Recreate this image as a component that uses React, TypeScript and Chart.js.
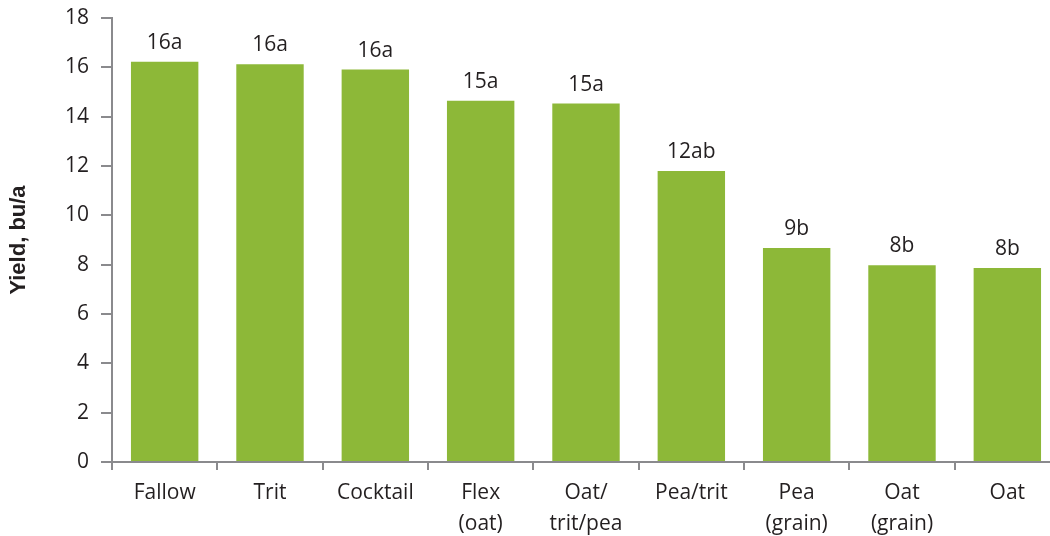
import React, { useEffect, useRef } from "react";
import { Chart, registerables } from "chart.js";

Chart.register(...registerables);

const categories: (string | string[])[] = [
  "Fallow",
  "Trit",
  "Cocktail",
  ["Flex", "(oat)"],
  ["Oat/", "trit/pea"],
  "Pea/trit",
  ["Pea", "(grain)"],
  ["Oat", "(grain)"],
  "Oat",
];
const yieldValues = [16.23, 16.12, 15.91, 14.65, 14.53, 11.8, 8.68, 7.98, 7.86];
const barLabels = ["16a", "16a", "16a", "15a", "15a", "12ab", "9b", "8b", "8b"];
const yTitle = "Yield, bu/a";

const FONT = "'Open Sans', 'Noto Sans', sans-serif";
const TEXT = "#231f20";
const AXIS = "#8a8a8d";
const GREEN = "#8db838";

const labelPlugin = {
  id: "barLabels",
  afterDatasetsDraw(chart: any) {
    const ctx = chart.ctx;
    const meta = chart.getDatasetMeta(0);
    ctx.save();
    ctx.font = `21px ${FONT}`;
    ctx.fillStyle = TEXT;
    ctx.textAlign = "center";
    ctx.textBaseline = "alphabetic";
    meta.data.forEach((el: any, i: number) => {
      ctx.fillText(barLabels[i], el.x, el.y - 13);
    });
    ctx.restore();
  },
};

export default function App() {
  const ref = useRef<HTMLCanvasElement | null>(null);
  useEffect(() => {
    if (!ref.current) return;
    const chart = new Chart(ref.current, {
      type: "bar",
      data: {
        labels: categories,
        datasets: [
          {
            data: yieldValues,
            backgroundColor: GREEN,
            borderWidth: 0,
            categoryPercentage: 1,
            barPercentage: 0.64,
          },
        ],
      },
      options: {
        animation: false,
        responsive: false,
        maintainAspectRatio: false,
        layout: { padding: { top: 18, right: 2, bottom: 0, left: 0 } },
        plugins: {
          legend: { display: false },
          tooltip: { enabled: false },
        },
        scales: {
          x: {
            grid: {
              display: true,
              drawOnChartArea: false,
              drawTicks: true,
              tickLength: 8,
              color: AXIS,
              lineWidth: 2,
              offset: true,
            },
            border: { display: true, color: AXIS, width: 2 },
            ticks: {
              color: TEXT,
              font: { family: FONT, size: 21, lineHeight: 1.45 },
              padding: 8,
              maxRotation: 0,
              autoSkip: false,
            },
            afterFit(scale: any) {
              scale.height = 74;
            },
          },
          y: {
            min: 0,
            max: 18,
            ticks: {
              stepSize: 2,
              color: TEXT,
              font: { family: FONT, size: 21 },
              padding: 12,
            },
            grid: {
              display: true,
              drawOnChartArea: false,
              drawTicks: true,
              tickLength: 11,
              color: AXIS,
              lineWidth: 2,
            },
            border: { display: true, color: AXIS, width: 2 },
            title: {
              display: true,
              text: yTitle,
              color: TEXT,
              font: { family: "'Liberation Sans', Arial, sans-serif", size: 22, weight: "bold", lineHeight: 1.2 },
              padding: { top: 6, bottom: 0 },
            },
            afterFit(scale: any) {
              scale.width = 112;
              scale.paddingTop = 0;
              scale.paddingBottom = 0;
            },
          },
        },
      },
      plugins: [labelPlugin],
    });
    return () => chart.destroy();
  }, []);
  return (
    <div
      style={{
        position: "fixed",
        left: 0,
        top: 0,
        width: 1050,
        height: 536,
        overflow: "hidden",
        background: "#fff",
      }}
    >
      <canvas ref={ref} width={1062} height={536} style={{ display: "block" }} />
    </div>
  );
}
